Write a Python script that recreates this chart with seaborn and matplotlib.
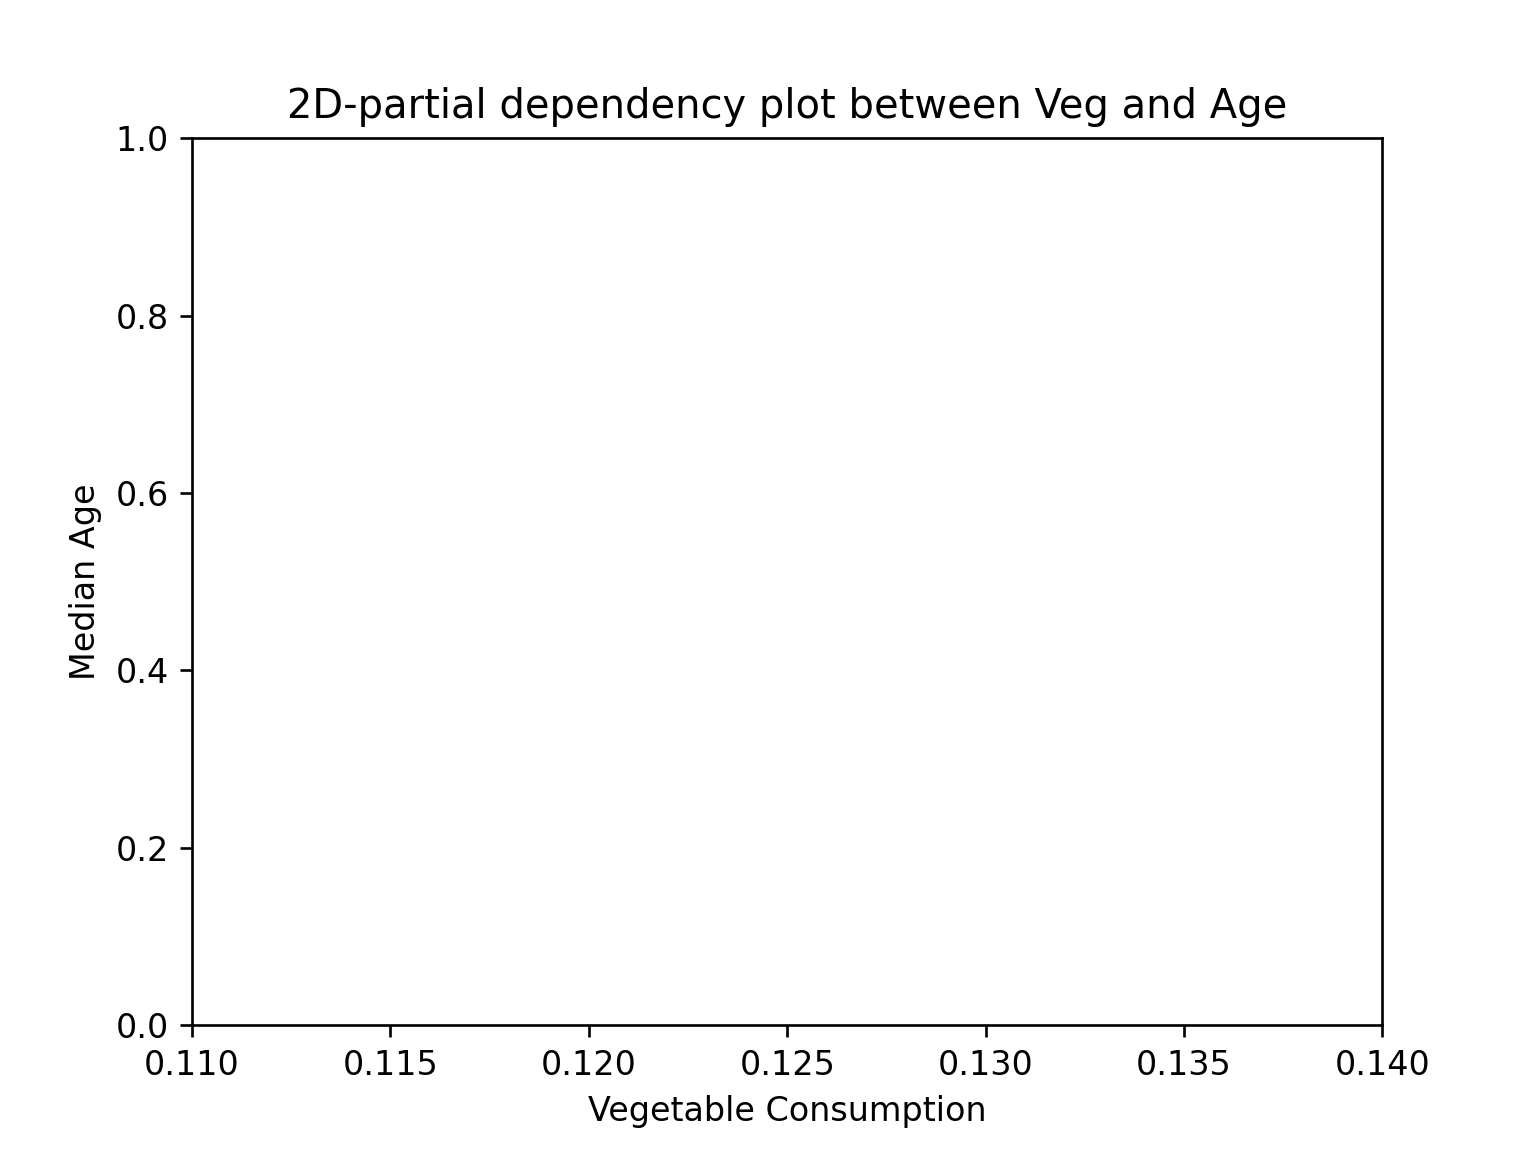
import numpy as np
import pandas as pd
import seaborn as sns
import matplotlib.pyplot as plt

# the reference axes are empty: only limits and labels
veg_limits = [0.110, 0.140]
age_limits = [0.0, 1.0]
veg_ticks = [0.110, 0.115, 0.120, 0.125, 0.130, 0.135, 0.140]
age_ticks = [0.0, 0.2, 0.4, 0.6, 0.8, 1.0]

plt.rcParams['font.family'] = ['DejaVu Sans']
fig, ax = plt.subplots(figsize=(6.4, 4.8), dpi=240)
sns.despine(ax=ax, top=False, right=False)
ax.set_xlim(veg_limits)
ax.set_ylim(age_limits)
ax.set_xticks(veg_ticks)
ax.set_xticklabels([f'{t:.3f}' for t in veg_ticks])
ax.set_yticks(age_ticks)
ax.set_yticklabels([f'{t:.1f}' for t in age_ticks])
ax.set_xlabel('Vegetable Consumption')
ax.set_ylabel('Median Age')
ax.set_title('2D-partial dependency plot between Veg and Age')
plt.savefig('out.png', dpi=240)
